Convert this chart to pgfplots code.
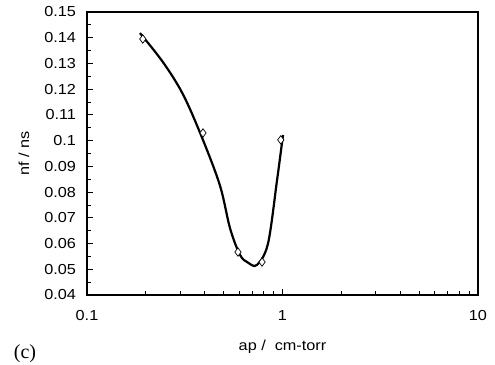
\documentclass[border=0pt]{standalone}
\usepackage{fontspec}
\setmainfont{Liberation Sans}[FakeStretch=1.12]
\newfontfamily\seriffont{Liberation Serif}
\usepackage{pgfplots}
\pgfplotsset{compat=1.18}
\begin{document}
\begin{tikzpicture}
\begin{axis}[
  scale only axis, width=391pt, height=283pt,
  xmode=log, xmin=0.1, xmax=10, ymin=0.04, ymax=0.15,
  xtick={0.1,1,10}, xticklabels={0.1,1,10},
  ytick={0.04,0.05,0.06,0.07,0.08,0.09,0.1,0.11,0.12,0.13,0.14,0.15},
  yticklabels={0.04,0.05,0.06,0.07,0.08,0.09,0.1,0.11,0.12,0.13,0.14,0.15},
  minor ytick={0.045,0.055,0.065,0.075,0.085,0.095,0.105,0.115,0.125,0.135,0.145},
  xtick pos=bottom, ytick pos=left, tick align=inside,
  axis line style={line width=1.2pt},
  tick style={black, line width=0.9pt},
  major tick length=6pt, minor tick length=4pt,
  font=\fontsize{14.5}{17}\selectfont,
  xticklabel style={yshift=-12pt},
  yticklabel style={xshift=-7.5pt},
  xlabel={ap /\ \ cm-torr}, ylabel={nf / ns},
  xlabel style={at={(axis description cs:0.5,-0.184)}, anchor=center},
  ylabel style={at={(axis description cs:-0.161,0.5)}, anchor=center},
  clip=false,
]
\addplot[only marks, mark=diamond*, mark size=4.2pt, mark options={fill=white, draw=black, line width=0.7pt}]
  coordinates {(0.193,0.1395) (0.392,0.103) (0.592,0.0567) (0.786,0.0528) (0.98,0.1003)};
\addplot[black, line width=2.2pt, smooth, tension=0.55] coordinates {
(0.1866,0.1418)
(0.2447,0.1305)
(0.3097,0.1180)
(0.3875,0.1012)
(0.4790,0.0825)
(0.5389,0.0660)
(0.6062,0.0556)
(0.6659,0.0526)
(0.7407,0.0517)
(0.8430,0.0600)
(0.9374,0.0845)
(1.006,0.1022)
};
\node[font=\seriffont\fontsize{20}{22}\selectfont] at (axis description cs:-0.1586,-0.2085) {(c)};
\end{axis}
\pgfresetboundingbox
\path (-87pt,-69pt) rectangle (408pt,295pt);
\end{tikzpicture}
\end{document}
